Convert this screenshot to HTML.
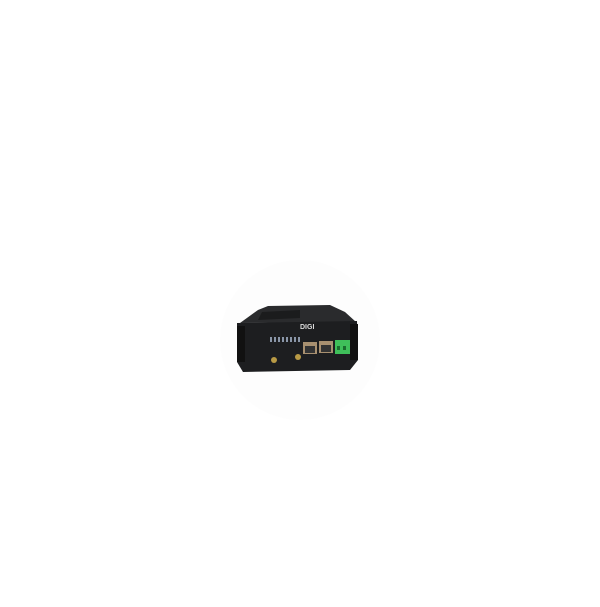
<!DOCTYPE html>
<html><head><style>html,body{margin:0;padding:0;background:#fff;width:600px;height:607px;overflow:hidden}</style></head>
<body>
<svg width="600" height="607" xmlns="http://www.w3.org/2000/svg">
<circle cx="300" cy="340" r="80" fill="#fdfdfd"/>
<!-- top face -->
<polygon points="240,323 258,310 268,306 330,305 345,312 356,322" fill="#2a2b2d"/>
<polygon points="262,312 300,310 300,318 258,320" fill="#1b1c1d"/>
<!-- front face -->
<polygon points="237,323 357,321 358,360 350,370 243,372 237,362" fill="#1d1e20"/>
<rect x="237" y="326" width="8" height="36" fill="#111"/>
<rect x="350" y="324" width="8" height="36" fill="#111"/>
<text x="300" y="329" font-family="Liberation Sans" font-size="7" font-weight="bold" fill="#ddd">DIGI</text>
<!-- LEDs -->
<g fill="#8a96a8"><rect x="270" y="337" width="2" height="5"/><rect x="274" y="337" width="2" height="5"/><rect x="278" y="337" width="2" height="5"/><rect x="282" y="337" width="2" height="5"/><rect x="286" y="337" width="2" height="5"/><rect x="290" y="337" width="2" height="5"/><rect x="294" y="337" width="2" height="5"/><rect x="298" y="337" width="2" height="5"/></g>
<!-- antenna connectors -->
<circle cx="274" cy="360" r="3" fill="#b89a45"/>
<circle cx="298" cy="357" r="3" fill="#b89a45"/>
<!-- ethernet -->
<rect x="303" y="342" width="14" height="12" fill="#a89070"/><rect x="305" y="346" width="10" height="7" fill="#333"/>
<rect x="319" y="341" width="14" height="12" fill="#a89070"/><rect x="321" y="345" width="10" height="7" fill="#333"/>
<!-- green terminal -->
<rect x="335" y="340" width="15" height="14" fill="#3fbf5a"/>
<rect x="337" y="346" width="3" height="4" fill="#1a6e2e"/><rect x="343" y="346" width="3" height="4" fill="#1a6e2e"/>
</svg>
</body></html>
